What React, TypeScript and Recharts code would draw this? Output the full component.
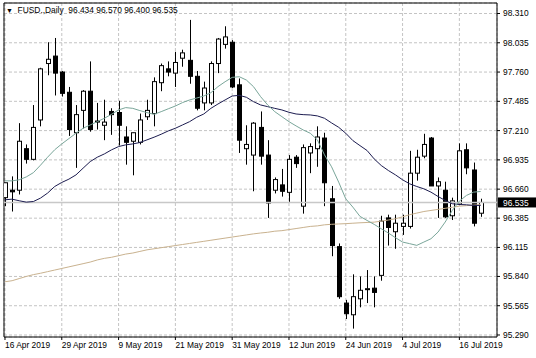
import React from 'react';
import { ComposedChart, Bar, Line, XAxis, YAxis, CartesianGrid, ReferenceLine, ReferenceArea } from 'recharts';

// Daily bars, 16 Apr 2019 .. 19 Jul 2019 (index 0..67)
const openP = [96.58, 96.65, 96.65, 97.04, 96.94, 97.31, 97.84, 97.91, 97.76, 97.57, 97.19, 97.40, 97.58, 97.30, 97.26, 97.39, 97.38, 97.15, 97.11, 97.10, 97.34, 97.37, 97.66, 97.79, 97.75, 97.89, 97.87, 97.72, 97.47, 97.47, 97.84, 98.02, 98.04, 97.64, 97.04, 96.98, 97.24, 96.98, 96.65, 96.70, 96.63, 96.96, 96.50, 97.00, 97.04, 97.14, 96.57, 96.12, 95.59, 95.48, 95.63, 95.72, 95.73, 95.85, 96.39, 96.26, 96.31, 96.31, 96.81, 96.97, 97.14, 96.69, 96.65, 96.41, 96.52, 97.03, 96.84, 96.434];
const highP = [96.72, 96.78, 97.28, 97.08, 97.45, 97.80, 98.04, 98.08, 97.77, 97.62, 97.45, 97.59, 97.86, 97.47, 97.50, 97.42, 97.49, 97.25, 97.19, 97.37, 97.50, 97.71, 97.84, 97.86, 97.95, 97.97, 98.25, 97.77, 97.67, 97.86, 98.08, 98.19, 98.06, 97.70, 97.26, 97.29, 97.39, 97.12, 96.77, 96.85, 96.98, 96.98, 97.08, 97.09, 97.25, 97.19, 96.69, 96.15, 95.62, 95.86, 95.84, 95.90, 95.84, 96.41, 96.42, 96.42, 96.42, 97.02, 97.03, 97.18, 97.15, 96.77, 96.73, 96.58, 97.09, 97.09, 96.91, 96.570];
const lowP = [96.50, 96.45, 96.61, 96.90, 96.93, 97.25, 97.73, 97.54, 97.53, 97.16, 96.86, 97.23, 97.20, 97.22, 97.12, 97.17, 97.07, 96.89, 96.79, 97.08, 97.31, 97.25, 97.58, 97.72, 97.62, 97.81, 97.65, 97.40, 97.40, 97.45, 97.75, 97.98, 97.61, 97.00, 96.89, 96.64, 96.89, 96.39, 96.62, 96.59, 96.54, 96.86, 96.43, 96.81, 96.87, 96.50, 96.03, 95.63, 95.44, 95.35, 95.55, 95.59, 95.55, 95.80, 96.13, 96.10, 96.23, 96.29, 96.74, 96.95, 96.69, 96.39, 96.39, 96.37, 96.51, 96.80, 96.31, 96.400];
const closeP = [96.72, 96.635, 97.11, 96.94, 97.24, 97.79, 97.88, 97.75, 97.56, 97.22, 97.36, 97.58, 97.22, 97.29, 97.29, 97.36, 97.26, 97.10, 97.19, 97.31, 97.40, 97.67, 97.82, 97.76, 97.85, 97.94, 97.72, 97.42, 97.61, 97.84, 98.07, 98.09, 97.62, 97.12, 97.08, 97.28, 96.97, 96.53, 96.75, 96.64, 96.94, 96.90, 97.05, 97.06, 97.15, 96.72, 96.13, 95.65, 95.49, 95.65, 95.71, 95.725, 95.69, 96.36, 96.30, 96.34, 96.34, 96.81, 96.96, 97.08, 96.69, 96.73, 96.40, 96.55, 97.02, 96.86, 96.34, 96.535];

const maFast = [96.738, 96.738, 96.748, 96.775, 96.815, 96.885, 96.96, 97.03, 97.085, 97.135, 97.185, 97.232, 97.263, 97.294, 97.326, 97.363, 97.404, 97.426, 97.419, 97.398, 97.379, 97.363, 97.388, 97.415, 97.441, 97.473, 97.498, 97.516, 97.535, 97.566, 97.623, 97.669, 97.71, 97.716, 97.685, 97.623, 97.529, 97.451, 97.388, 97.341, 97.294, 97.254, 97.216, 97.185, 97.123, 96.982, 96.87, 96.726, 96.569, 96.491, 96.404, 96.366, 96.329, 96.288, 96.248, 96.204, 96.163, 96.148, 96.132, 96.163, 96.194, 96.257, 96.351, 96.46, 96.548, 96.601, 96.632, 96.638];
const maSlow = [96.56, 96.566, 96.551, 96.538, 96.544, 96.576, 96.623, 96.685, 96.723, 96.754, 96.794, 96.857, 96.919, 96.96, 96.991, 97.029, 97.06, 97.076, 97.085, 97.098, 97.123, 97.148, 97.176, 97.207, 97.232, 97.263, 97.294, 97.335, 97.366, 97.419, 97.46, 97.498, 97.535, 97.541, 97.523, 97.482, 97.451, 97.435, 97.419, 97.404, 97.382, 97.366, 97.36, 97.357, 97.348, 97.326, 97.282, 97.241, 97.185, 97.116, 97.069, 97.023, 96.944, 96.882, 96.835, 96.794, 96.748, 96.71, 96.685, 96.663, 96.632, 96.591, 96.554, 96.523, 96.516, 96.513, 96.507, 96.507];
const maLong = [95.79, 95.80, 95.82, 95.84, 95.857, 95.87, 95.885, 95.90, 95.915, 95.93, 95.945, 95.96, 95.975, 95.995, 96.01, 96.02, 96.035, 96.05, 96.06, 96.075, 96.09, 96.10, 96.11, 96.12, 96.13, 96.14, 96.15, 96.16, 96.17, 96.18, 96.19, 96.20, 96.21, 96.22, 96.23, 96.24, 96.248, 96.255, 96.265, 96.27, 96.28, 96.29, 96.30, 96.31, 96.315, 96.325, 96.33, 96.333, 96.336, 96.34, 96.344, 96.347, 96.35, 96.36, 96.37, 96.382, 96.40, 96.42, 96.435, 96.45, 96.46, 96.47, 96.48, 96.49, 96.50, 96.505, 96.51, 96.515];

const xTickIdx = [0, 8, 16, 24, 32, 40, 48, 56, 64];
const xTickLabels = ['16 Apr 2019', '29 Apr 2019', '9 May 2019', '21 May 2019', '31 May 2019', '12 Jun 2019', '24 Jun 2019', '4 Jul 2019', '16 Jul 2019'];
const yTicks = [95.29, 95.565, 95.84, 96.1125, 96.3875, 96.66, 96.935, 97.21, 97.485, 97.76, 98.035, 98.31];
const yTickLabels = ['95.290', '95.565', '95.840', '96.115', '96.385', '96.660', '96.935', '97.210', '97.485', '97.760', '98.035', '98.310'];

const lastPrice = 96.535;
const title = 'FUSD.,Daily  96.434 96.570 96.400 96.535';

const X_DOMAIN: [number, number] = [-0.14, 69.3];
const Y_DOMAIN: [number, number] = [95.2712, 98.4086];
const FONT = '"Liberation Sans", Arial, sans-serif';

const data = openP.map((o, i) => ({
  i,
  open: o,
  high: highP[i],
  low: lowP[i],
  close: closeP[i],
  range: [lowP[i], highP[i]],
  fast: maFast[i],
  slow: maSlow[i],
  long: maLong[i],
}));

const Candle = (props: any) => {
  const { x, y, width, height, payload } = props;
  if (!payload || x == null || y == null) return null;
  const top = Math.min(y, y + height);
  const bot = Math.max(y, y + height);
  const { open, close, high, low } = payload;
  const ppu = (bot - top) / (high - low || 1);
  const yOf = (v: number) => top + (high - v) * ppu;
  const cx = Math.round(x + width / 2) + 0.5;
  const bull = close >= open;
  const bTop = yOf(Math.max(open, close));
  const bBot = yOf(Math.min(open, close));
  const bh = Math.max(bBot - bTop, 1);
  return (
    <g>
      <line x1={cx} x2={cx} y1={top} y2={bot} stroke="#000" strokeWidth={1} />
      <rect x={cx - 2} y={bTop} width={4} height={bh} fill={bull ? '#fff' : '#000'} stroke="#000" strokeWidth={1} />
    </g>
  );
};

const XTick = (props: any) => {
  const { x, y, payload } = props;
  const idx = xTickIdx.indexOf(payload.value);
  return (
    <text x={x} y={y + 6} textAnchor="start" fontSize={8.4} fontFamily={FONT} fill="#000">
      {xTickLabels[idx]}
    </text>
  );
};

const PriceTag = (props: any) => {
  const vb = props.viewBox || {};
  const x0 = (vb.x || 0) + (vb.width || 0) + 1;
  const y0 = vb.y || 0;
  return (
    <g>
      <rect x={x0} y={y0 - 5} width={38} height={10} fill="#000" />
      <text x={x0 + 5} y={y0 + 3.2} fontSize={8.4} fontFamily={FONT} fill="#fff">
        {lastPrice.toFixed(3)}
      </text>
    </g>
  );
};

export default function App() {
  return (
    <div style={{ position: 'absolute', left: 0, top: 0, width: 536, height: 358, background: '#fff' }}>
      <ComposedChart width={536} height={358} data={data} margin={{ top: 3, right: 0, bottom: 0, left: 4 }}>
        <CartesianGrid stroke="#c4c4c4" strokeDasharray="3 2" />
        <XAxis
          dataKey="i"
          type="number"
          domain={X_DOMAIN}
          allowDataOverflow
          ticks={xTickIdx}
          interval={0}
          height={21}
          tickSize={3}
          tickLine={{ stroke: '#000' }}
          axisLine={false}
          tick={<XTick />}
        />
        <YAxis
          orientation="right"
          domain={Y_DOMAIN}
          allowDataOverflow
          ticks={yTicks}
          interval={0}
          width={39}
          tickSize={3}
          tickMargin={3}
          tickLine={{ stroke: '#000' }}
          axisLine={false}
          tick={{ fontSize: 8.4, fill: '#000', fontFamily: FONT }}
          tickFormatter={(v: number) => yTickLabels[yTicks.indexOf(v)]}
        />
        <ReferenceLine y={lastPrice} stroke="#c8c8c8" strokeWidth={1.5} label={<PriceTag />} ifOverflow="visible" />
        <Line type="linear" dataKey="long" stroke="#c9b28f" strokeWidth={1} dot={false} isAnimationActive={false} />
        <Bar dataKey="range" barSize={5} shape={<Candle />} isAnimationActive={false} />
        <Line type="linear" dataKey="slow" stroke="#1c1c50" strokeWidth={1} dot={false} isAnimationActive={false} />
        <Line type="linear" dataKey="fast" stroke="#7aa69a" strokeWidth={1} dot={false} isAnimationActive={false} />
        <ReferenceArea x1={X_DOMAIN[0]} x2={X_DOMAIN[1]} y1={Y_DOMAIN[0]} y2={Y_DOMAIN[1]} fill="none" stroke="#000" strokeWidth={1} ifOverflow="visible" />
      </ComposedChart>
      <div
        style={{
          position: 'absolute',
          left: 6,
          top: 5,
          fontFamily: FONT,
          fontSize: 8.4,
          lineHeight: '10px',
          whiteSpace: 'pre',
          color: '#000',
        }}
      >
        <span style={{ fontSize: 7 }}>▼</span>
        {'  ' + title}
      </div>
    </div>
  );
}
